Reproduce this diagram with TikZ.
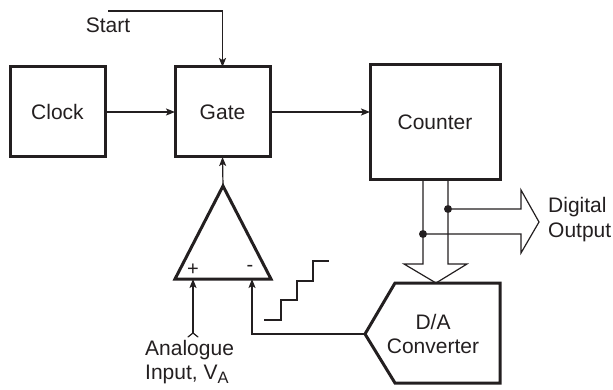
\documentclass[tikz,border=0pt]{standalone}
\usepackage{fontspec}
\setmainfont{Liberation Sans}
\usepackage{xcolor}
\usetikzlibrary{arrows.meta,positioning,calc}
\definecolor{inkdark}{HTML}{231F20}
\begin{document}
\begin{tikzpicture}[
  x=1pt,y=-1pt,
  color=inkdark,
  font=\fontsize{21}{24.5}\selectfont,
  block/.style={rectangle,draw,line width=3pt,minimum width=95pt,minimum height=90pt,align=center,inner sep=0pt,outer sep=0pt},
  outline/.style={line width=3pt,line join=miter},
  arrow/.style={-{Stealth[length=9pt,width=7pt,inset=2pt]},line width=1.2pt},
  wire/.style={line width=1.2pt,line join=miter},
  bus/.style={line width=1.2pt,line join=miter},
  dot/.style={circle,fill=inkdark,inner sep=0pt,minimum size=8pt},
  label/.style={inner sep=0pt,align=left}
]
\useasboundingbox (0,0) rectangle (613,390);
\node[block] (clock) at (57.5,112) {Clock};
\node[block,right=70pt of clock] (gate) {Gate};
\node[block,minimum width=130pt,minimum height=115pt] (counter) at (435,122.5) {Counter};
\node[label] (start) at (108,25) {Start};
\coordinate (startend) at (108,11);
\draw[arrow] (startend) -| (gate.north);
\draw[arrow] (clock) -- (gate);
\draw[arrow] (gate.east) -- (gate.east -| counter.west);
% comparator
\coordinate (apex) at (223,186);
\coordinate (baseleft) at (175,279);
\coordinate (baseright) at (271,279);
\draw[outline] (apex) -- (baseleft) -- (baseright) -- cycle;
\draw[arrow] (apex) -- (gate.south);
\node[inner sep=0pt] (plus) at (193,270) {\fontsize{20}{20}\selectfont +};
\node[inner sep=0pt] (minus) at (250,268) {\fontsize{20}{20}\selectfont -};
\coordinate (plusin) at (193,279);
\coordinate (minusin) at (252,279);
\coordinate (inputend) at (193,333);
\draw[arrow] (inputend) -- (plusin);
\draw[wire,line cap=round] ($(inputend)+(-5,4)$) -- (inputend) -- ($(inputend)+(5,4)$);
\node[label,anchor=north west] (input) at (145,340) {Analogue\\Input, V\raisebox{-4pt}{\fontsize{16.5}{16.5}\selectfont A}};
% converter
\node[inner sep=0pt,align=center] (dac) at (433,334) {D/A\\Converter};
\coordinate (dactip) at (365,334);
\draw[outline] (dactip) -- (395,283) -- (500,283) -- (500,383) -- (395,383) -- cycle;
\draw[arrow] (dactip) -| (minusin);
% staircase
\draw[wire] (264,320) -- (281,320) -- (281,300) -- (297,300) -- (297,281) -- (313,281) -- (313,261) -- (329,261);
% buses
\node[dot] (tapb) at (448,209) {};
\node[dot] (tapa) at (423,234) {};
\coordinate (dacin) at (436,283);
\draw[bus] (counter.south -| tapa) -- (tapa) -- (423,264) -- (404,264) -- (dacin) -- (467,264) -- (448,264) -- (tapb) -- (counter.south -| tapb);
\draw[bus] (tapb) -- (521,209) -- (521,190) -- (539,222) -- (521,253) -- (521,234) -- (tapa);
\node[label,anchor=west] (output) at (548,219.5) {Digital\\Output};
\end{tikzpicture}
\end{document}
